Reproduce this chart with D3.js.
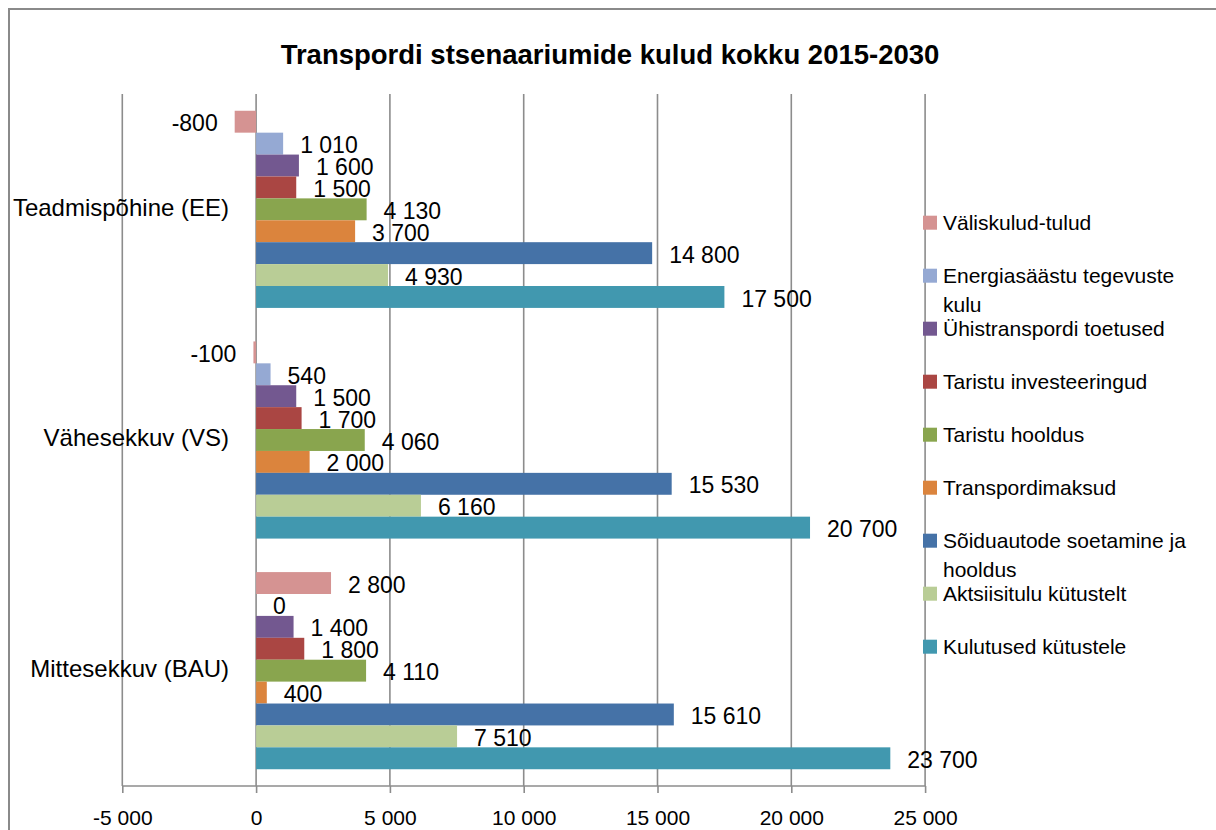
<!DOCTYPE html>
<html>
<head>
<meta charset="utf-8">
<script src="https://cdn.jsdelivr.net/npm/d3@7"></script>
<style>
  html, body { margin: 0; padding: 0; background: #fff; }
  svg { display: block; font-family: "Liberation Sans", Arial, sans-serif; }
</style>
</head>
<body>
<svg id="chart" width="1216" height="830"></svg>
<script>
// ---- data ----
const categories = ["Teadmispõhine (EE)", "Vähesekkuv (VS)", "Mittesekkuv (BAU)"];
const seriesNames = [
  "Väliskulud-tulud",
  "Energiasäästu tegevuste kulu",
  "Ühistranspordi toetused",
  "Taristu investeeringud",
  "Taristu hooldus",
  "Transpordimaksud",
  "Sõiduautode soetamine ja hooldus",
  "Aktsiisitulu kütustelt",
  "Kulutused kütustele"
];
const seriesColors = ["#D59392", "#95A9D3", "#735890", "#AA4643", "#89A54E", "#DB843D", "#4572A7", "#B9CD96", "#4198AF"];
// values per category, in series order
const valuesEE  = [-800, 1010, 1600, 1500, 4130, 3700, 14800, 4930, 17500];
const valuesVS  = [-100, 540, 1500, 1700, 4060, 2000, 15530, 6160, 20700];
const valuesBAU = [2800, 0, 1400, 1800, 4110, 400, 15610, 7510, 23700];
const tickValues = [-5000, 0, 5000, 10000, 15000, 20000, 25000];
const titleText = "Transpordi stsenaariumide kulud kokku 2015-2030";

const valuesByCat = [valuesEE, valuesVS, valuesBAU];

// ---- layout ----
const svg = d3.select("#chart");
const plotTop = 94, plotBottom = 786;
const locale = d3.formatLocale({decimal: ",", thousands: " ", grouping: [3], currency: ["", ""], minus: "-"});
const fmt = locale.format(",d");

const x = d3.scaleLinear().domain([-5000, 25000]).range([122.3, 925.1]);
const yCat = d3.scaleBand().domain(categories).range([plotTop, plotBottom]).paddingInner(0).paddingOuter(0);
const ySer = d3.scaleBand().domain(d3.range(seriesNames.length)).range([0, yCat.bandwidth()]).paddingInner(0).paddingOuter(0.765);

// outer frame
svg.append("rect").attr("x", 9).attr("y", 9).attr("width", 1260).attr("height", 900)
  .attr("fill", "#fff").attr("stroke", "#8a8a8a").attr("stroke-width", 2);

// title
svg.append("text").attr("x", 610).attr("y", 64).attr("text-anchor", "middle")
  .attr("font-size", 27.5).attr("font-weight", "bold").attr("fill", "#000").text(titleText);

// gridlines
svg.append("g").selectAll("line").data(tickValues).join("line")
  .attr("x1", d => x(d)).attr("x2", d => x(d))
  .attr("y1", plotTop).attr("y2", plotBottom)
  .attr("stroke", "#8c8c8c").attr("stroke-width", 1.6);

// axis
const axis = d3.axisBottom(x).tickValues(tickValues).tickSize(7).tickPadding(16.6).tickFormat(fmt);
const gAxis = svg.append("g").attr("transform", `translate(0,${plotBottom})`).call(axis);
gAxis.select(".domain").attr("stroke", "#8c8c8c").attr("stroke-width", 1.6).attr("d", `M${x(-5000)},0H${x(25000)}`);
gAxis.selectAll(".tick line").attr("stroke", "#8c8c8c").attr("stroke-width", 1.6);
gAxis.selectAll(".tick text").attr("font-size", 21).attr("fill", "#000")
  .attr("font-family", "'Liberation Sans', Arial, sans-serif");

// bars
const flat = [];
categories.forEach((c, ci) => valuesByCat[ci].forEach((v, si) => flat.push({c, si, v})));

const gBars = svg.append("g");
gBars.selectAll("rect").data(flat).join("rect")
  .attr("x", d => x(Math.min(0, d.v)))
  .attr("width", d => Math.abs(x(d.v) - x(0)))
  .attr("y", d => yCat(d.c) + ySer(d.si))
  .attr("height", ySer.bandwidth())
  .attr("fill", d => seriesColors[d.si]);

// data labels
svg.append("g").selectAll("text").data(flat).join("text")
  .attr("x", d => d.v < 0 ? x(d.v) - 17 : x(d.v) + 17)
  .attr("y", d => yCat(d.c) + ySer(d.si) + ySer.bandwidth() / 2 + 1.5)
  .attr("dy", "0.35em")
  .attr("text-anchor", d => d.v < 0 ? "end" : "start")
  .attr("font-size", 23).attr("fill", "#000")
  .text(d => fmt(d.v));

// category labels
svg.append("g").selectAll("text").data(categories).join("text")
  .attr("x", 229).attr("y", d => yCat(d) + yCat.bandwidth() / 2 - 2)
  .attr("dy", "0.35em").attr("text-anchor", "end")
  .attr("font-size", 24).attr("fill", "#000").text(d => d);

// legend
const legTop = 222.7, legStep = 53, legMax = 262;
const gLeg = svg.append("g");
seriesNames.forEach((name, i) => {
  const cy = legTop + i * legStep;
  gLeg.append("rect").attr("x", 923).attr("y", cy - 7).attr("width", 14).attr("height", 14)
    .attr("fill", seriesColors[i]);
  const t = gLeg.append("text").attr("x", 943).attr("y", cy).attr("dy", "0.35em")
    .attr("font-size", 21).attr("fill", "#000");
  // wrap words
  const words = name.split(" ");
  let line = [], lineNo = 0;
  let ts = t.append("tspan").attr("x", 943).attr("y", cy).attr("dy", "0.35em");
  words.forEach(w => {
    line.push(w);
    ts.text(line.join(" "));
    if (ts.node().getComputedTextLength() > legMax && line.length > 1) {
      line.pop();
      ts.text(line.join(" "));
      line = [w];
      lineNo++;
      ts = t.append("tspan").attr("x", 943).attr("y", cy + lineNo * 29).attr("dy", "0.35em").text(w);
    }
  });
});
</script>
</body>
</html>
